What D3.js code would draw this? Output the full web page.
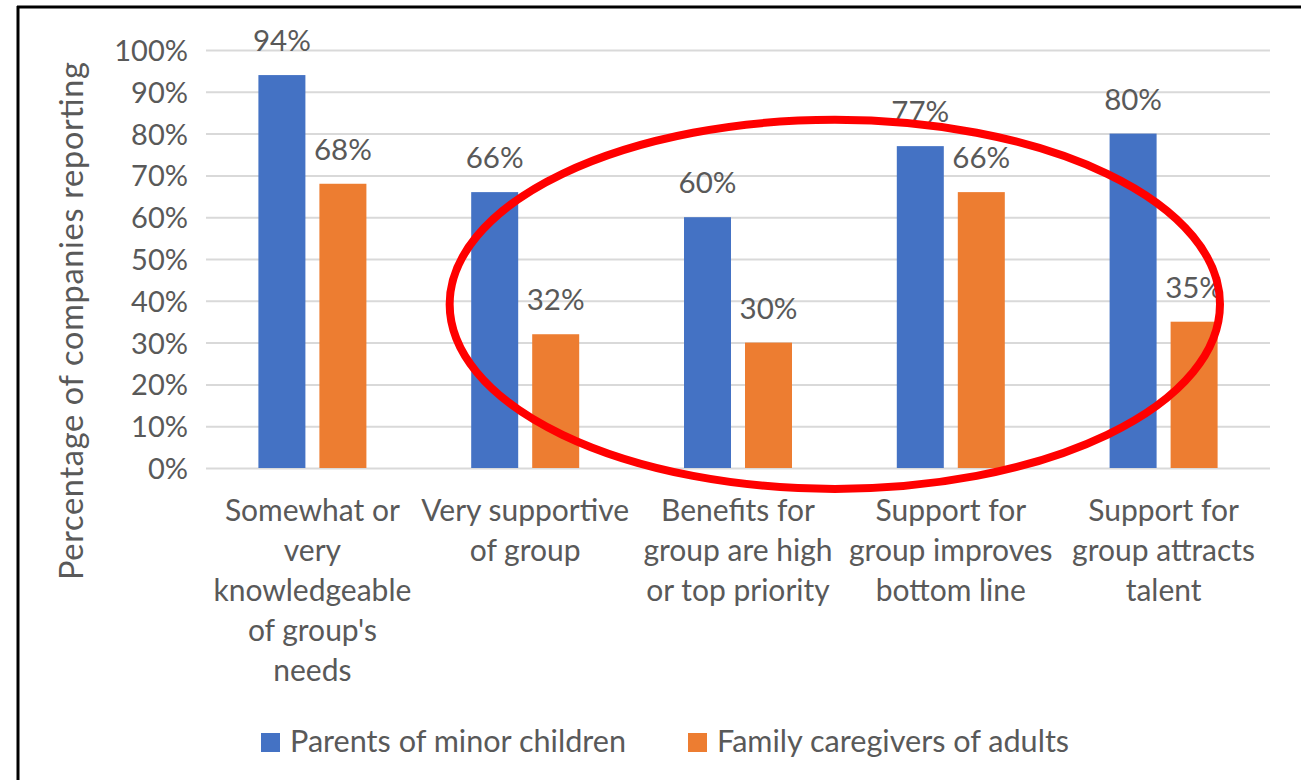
<!DOCTYPE html>
<html>
<head>
<meta charset="utf-8">
<script src="https://cdn.jsdelivr.net/npm/d3@7"></script>
<style>
  html, body { margin: 0; padding: 0; background: #ffffff; }
  svg { display: block; }
</style>
</head>
<body>
<svg id="chart" width="1301" height="780"></svg>
<script>
// Category labels, one entry per line of the wrapped label
const categories = [
  ["Somewhat or", "very", "knowledgeable", "of group's", "needs"],
  ["Very supportive", "of group"],
  ["Benefits for", "group are high", "or top priority"],
  ["Support for", "group improves", "bottom line"],
  ["Support for", "group attracts", "talent"]
];
const seriesNames = ["Parents of minor children", "Family caregivers of adults"];
const parentsValues = [94, 66, 60, 77, 80];
const caregiverValues = [68, 32, 30, 66, 35];
const yTicks = [0, 10, 20, 30, 40, 50, 60, 70, 80, 90, 100];
const colors = ["#4472C4", "#ED7D31"];
// Highlight ring around the last four groups: category-index span and value span
const ringIndexSpan = [0.645, 4.265];
const ringValueSpan = [-5, 83.3];

const W = 1301, H = 780;
const svg = d3.select("#chart");
const font = "Lato, 'Open Sans', sans-serif";
const textColor = "#595959";

const plot = { left: 206, right: 1270, top: 50, bottom: 468 };

const catKeys = categories.map((c, i) => i);
const x0 = d3.scaleBand().domain(catKeys).range([plot.left, plot.right]).padding(0);
const x1 = d3.scaleBand().domain([0, 1]).range([0, x0.bandwidth()])
  .paddingInner(14 / 61).paddingOuter(0.859);
const y = d3.scaleLinear().domain([0, 100]).range([plot.bottom, plot.top]);

// Frame lines
svg.append("line").attr("x1", 17).attr("x2", W).attr("y1", 7).attr("y2", 7)
  .attr("stroke", "#000").attr("stroke-width", 3);
svg.append("line").attr("x1", 18).attr("x2", 18).attr("y1", 6).attr("y2", H)
  .attr("stroke", "#000").attr("stroke-width", 3);

// Gridlines and y-axis labels
const yAxis = d3.axisLeft(y).tickValues(yTicks).tickFormat(d => d + "%")
  .tickSize(-(plot.right - plot.left)).tickPadding(18);
const gy = svg.append("g").attr("transform", `translate(${plot.left},0)`).call(yAxis);
gy.select(".domain").remove();
gy.selectAll(".tick line").attr("stroke", "#d9d9d9").attr("stroke-width", 2);
gy.selectAll(".tick text")
  .attr("fill", textColor).attr("font-family", font).attr("font-size", 29)
  .attr("dy", "0.36em");

// Bars
const rows = catKeys.map(i => ({ i, vals: [parentsValues[i], caregiverValues[i]] }));
const groups = svg.append("g").selectAll("g").data(rows).join("g")
  .attr("transform", d => `translate(${x0(d.i)},0)`);
groups.selectAll("rect").data(d => d.vals.map((v, s) => ({ v, s }))).join("rect")
  .attr("x", d => x1(d.s)).attr("width", x1.bandwidth())
  .attr("y", d => y(d.v)).attr("height", d => y(0) - y(d.v))
  .attr("fill", d => colors[d.s]);
groups.selectAll("text").data(d => d.vals.map((v, s) => ({ v, s }))).join("text")
  .attr("x", d => x1(d.s) + x1.bandwidth() / 2)
  .attr("y", d => y(d.v) - 24)
  .attr("text-anchor", "middle")
  .attr("fill", textColor).attr("font-family", font).attr("font-size", 29.5)
  .text(d => d.v + "%");

// Category labels
const catG = svg.append("g");
categories.forEach((lines, i) => {
  const t = catG.append("text")
    .attr("text-anchor", "middle")
    .attr("fill", textColor).attr("font-family", font).attr("font-size", 30);
  lines.forEach((ln, k) => {
    t.append("tspan").attr("x", x0(i) + x0.bandwidth() / 2)
      .attr("y", 521 + k * 40).text(ln);
  });
});

// Y-axis title
svg.append("text")
  .attr("transform", `translate(83,321) rotate(-90)`)
  .attr("text-anchor", "middle")
  .attr("fill", textColor).attr("font-family", font).attr("font-size", 32.5)
  .attr("textLength", 518).attr("lengthAdjust", "spacing")
  .text("Percentage of companies reporting");

// Legend
const legend = [
  { name: seriesNames[0], color: colors[0], x: 261 },
  { name: seriesNames[1], color: colors[1], x: 688 }
];
const lg = svg.append("g");
legend.forEach(d => {
  lg.append("rect").attr("x", d.x).attr("y", 733).attr("width", 19).attr("height", 19)
    .attr("fill", d.color);
  lg.append("text").attr("x", d.x + 29).attr("y", 752)
    .attr("fill", textColor).attr("font-family", font).attr("font-size", 30.6)
    .text(d.name);
});

// Highlight ring
const xIdx = d3.scaleLinear().domain([0, categories.length - 1])
  .range([x0(0) + x0.bandwidth() / 2, x0(categories.length - 1) + x0.bandwidth() / 2]);
const rx0 = xIdx(ringIndexSpan[0]), rx1 = xIdx(ringIndexSpan[1]);
const ry0 = y(ringValueSpan[1]), ry1 = y(ringValueSpan[0]);
svg.append("ellipse")
  .attr("cx", (rx0 + rx1) / 2).attr("cy", (ry0 + ry1) / 2)
  .attr("rx", (rx1 - rx0) / 2).attr("ry", (ry1 - ry0) / 2)
  .attr("fill", "none").attr("stroke", "#ff0000").attr("stroke-width", 8);
</script>
</body>
</html>
